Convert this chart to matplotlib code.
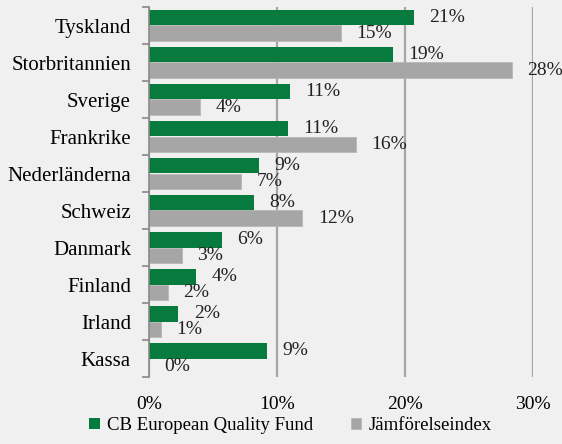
import numpy as np
import matplotlib.pyplot as plt

# data (percent)
countries = ['Tyskland', 'Storbritannien', 'Sverige', 'Frankrike', 'Nederländerna',
             'Schweiz', 'Danmark', 'Finland', 'Irland', 'Kassa']
fund = [20.7, 19.1, 11.0, 10.9, 8.6, 8.2, 5.7, 3.7, 2.3, 9.2]
index = [15.0, 28.4, 4.0, 16.2, 7.2, 12.0, 2.6, 1.5, 0.9, 0.0]
fund_labels = ['21%', '19%', '11%', '11%', '9%', '8%', '6%', '4%', '2%', '9%']
index_labels = ['15%', '28%', '4%', '16%', '7%', '12%', '3%', '2%', '1%', '0%']
xticks = [0, 10, 20, 30]

green = '#077a3e'
grey = '#a6a6a6'
bg = '#f0f0f0'

plt.rcParams['font.family'] = 'Liberation Serif'
plt.rcParams['font.size'] = 14

fig = plt.figure(figsize=(5.62, 4.44), dpi=100, facecolor=bg)
ax = fig.add_axes([149/562, 67/444, 383.7/562, 370/444], facecolor=bg)

n = len(countries)
y = np.arange(n)
h = 0.41
ax.barh(y - h/2, fund, height=h, color=green, label='CB European Quality Fund', zorder=3)
ax.barh(y + h/2, index, height=h, color=grey, edgecolor='#b8b8b8', linewidth=0.6,
        label='Jämförelseindex', zorder=3)

for i in range(n):
    ax.annotate(fund_labels[i], (fund[i], y[i] - h/2), xytext=(11, 0),
                textcoords='offset points', va='center', ha='left', color='#222222')
    ax.annotate(index_labels[i], (index[i], y[i] + h/2), xytext=(11, 0),
                textcoords='offset points', va='center', ha='left', color='#222222')

ax.set_ylim(n - 0.5, -0.5)
ax.set_xlim(0, 30)
ax.set_yticks(y)
ax.set_yticklabels(countries, fontsize=15)
ax.set_yticks(np.arange(n + 1) - 0.5, minor=True)
ax.tick_params(axis='y', which='major', length=0, pad=13)
ax.tick_params(axis='y', which='minor', length=5, color='#888888', width=1.2)
ax.set_xticks(xticks)
ax.set_xticklabels([f'{t}%' for t in xticks])
ax.tick_params(axis='x', length=0, pad=14)
ax.grid(axis='x', color=grey, linewidth=1.6, zorder=0)
for s in ['top', 'right', 'bottom']:
    ax.spines[s].set_visible(False)
ax.spines['left'].set_color('#888888')
ax.spines['left'].set_linewidth(1.2)
ax.spines['left'].set_zorder(4)

fig.legend(loc='lower center', bbox_to_anchor=(0.517, -0.015), ncol=2, frameon=False,
           fontsize=13.5, handlelength=0.55, handleheight=0.55, handletextpad=0.4,
           columnspacing=2.0)

fig.savefig('out.png', dpi=100, facecolor=bg)
